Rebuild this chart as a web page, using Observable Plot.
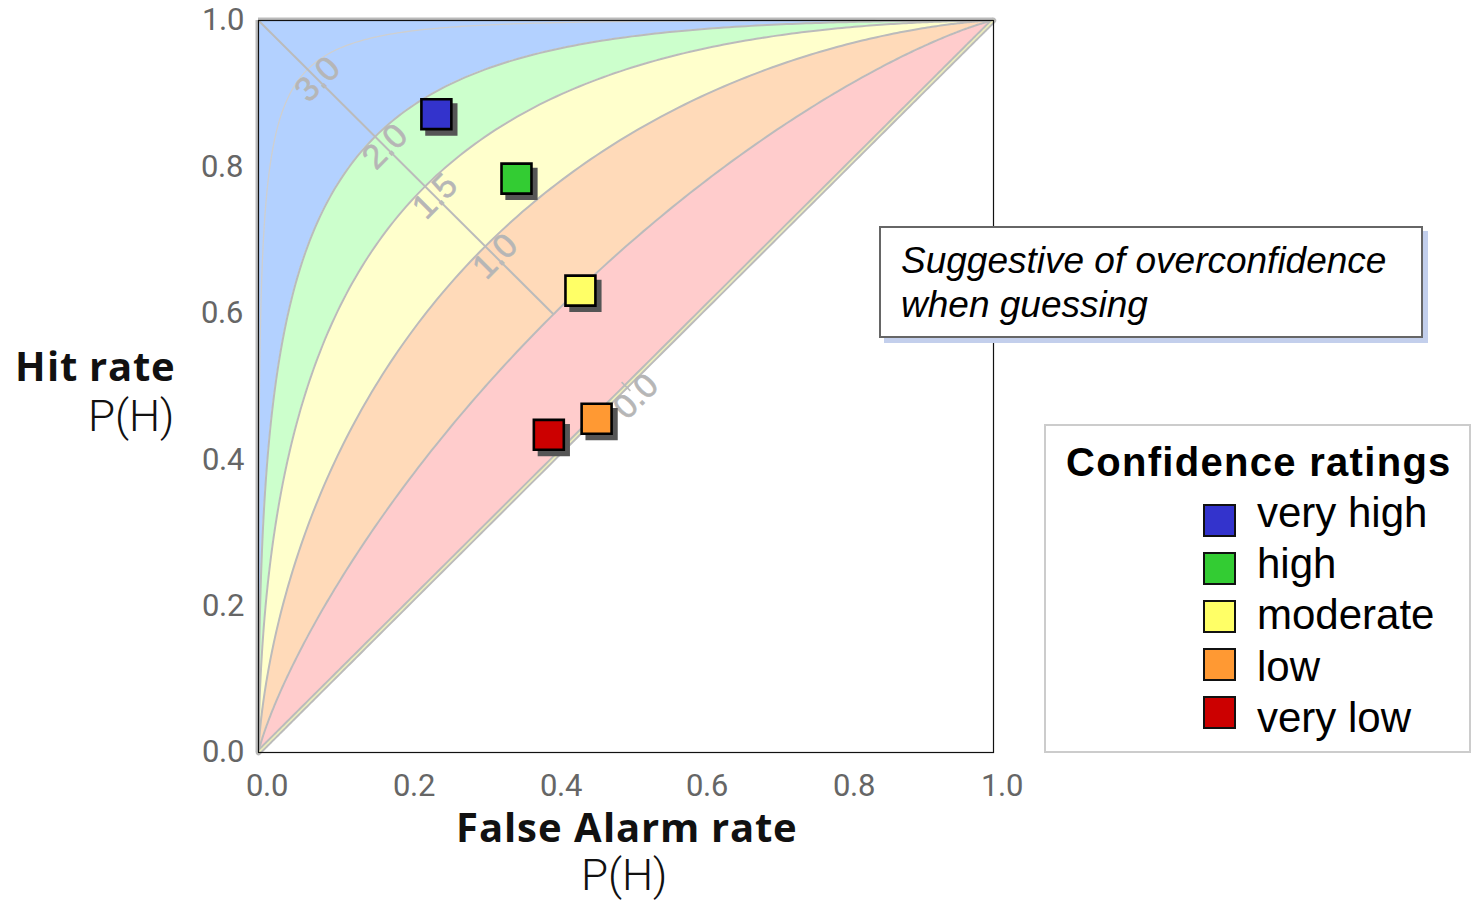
<!DOCTYPE html>
<html>
<head>
<meta charset="utf-8">
<script src="https://cdn.jsdelivr.net/npm/d3@7"></script>
<script src="https://cdn.jsdelivr.net/npm/@observablehq/plot@0.6"></script>
<style>
  @font-face { font-family: "TitleSans"; src: local("Open Sans Bold"), local("OpenSans-Bold"), local("Open Sans");
               font-weight: 700; ascent-override: 80%; descent-override: 22%; line-gap-override: 0%; }
  @font-face { font-family: "LightSans"; src: local("Roboto Light"), local("Roboto-Light");
               font-weight: 300; ascent-override: 82%; descent-override: 22%; line-gap-override: 0%; }
  @font-face { font-family: "TickSans"; src: local("Roboto"), local("Roboto Regular"), local("Roboto-Regular");
               font-weight: 400; ascent-override: 80%; descent-override: 20%; line-gap-override: 0%; }
  body { margin: 0; background: #fff; }
  #wrap { position: relative; width: 1474px; height: 903px; overflow: hidden; }
  .abs { position: absolute; white-space: nowrap; line-height: 1; }
  .ttl { font-family: TitleSans, "Open Sans", sans-serif; font-weight: 700; font-size: 40px; letter-spacing: 1px; color: #111; }
  .sub { font-family: LightSans, Roboto, sans-serif; font-weight: 300; font-size: 44px; color: #111; }
  #note { left: 879px; top: 226px; width: 540px; height: 108px; border: 2px solid #666; background: #fff;
          box-shadow: 5px 5px 0 #c3cfec; font-family: "Liberation Sans", Arial, sans-serif; font-style: italic;
          font-size: 37px; color: #000; box-sizing: content-box; }
  #note div { position: absolute; left: 20px; }
  #legend { left: 1044px; top: 424px; width: 423px; height: 325px; border: 2px solid #ccc; background: #fff;
            font-family: "Liberation Sans", Arial, sans-serif; color: #000; }
  #legend .lt { position: absolute; left: 20px; top: 16px; font-weight: 700; font-size: 40px; letter-spacing: 1.3px; }
  #legend .sw { position: absolute; left: 157px; width: 29px; height: 29px; border: 2px solid #111; }
  #legend .lb { position: absolute; left: 211px; font-size: 42px; }
</style>
</head>
<body>
<div id="wrap"></div>
<script>
// ---------- data ----------
const categories  = ["very high", "high", "moderate", "low", "very low"];
const falseAlarm  = [0.242, 0.351, 0.438, 0.460, 0.395];
const hitRate     = [0.872, 0.784, 0.631, 0.456, 0.434];
const pointColors = ["#3333CC", "#33CC33", "#FFFF66", "#FF9933", "#CC0000"];

// sensitivity bands (d') : lower / upper boundary and fill
const bandLower  = [2.0, 1.5, 1.0, 0.5, 0.0];
const bandUpper  = [Infinity, 2.0, 1.5, 1.0, 0.5];
const bandColors = ["#B3D1FF", "#CCFFCC", "#FFFFCC", "#FFDAB9", "#FFCCCC"];
const curveDPrimes = [3.0, 2.0, 1.5, 1.0, 0.5];
const labelDPrimes = [3.0, 2.0, 1.5, 1.0, 0.0];
const guideEndDPrime = 0.5;

const xTicks = [0, 0.2, 0.4, 0.6, 0.8, 1.0];
const yTicks = [0, 0.2, 0.4, 0.6, 0.8, 1.0];
const noteLines = ["Suggestive of overconfidence", "when guessing"];
const legendTitle = "Confidence ratings";

// ---------- signal detection helpers ----------
function erf(x) {
  const s = Math.sign(x); x = Math.abs(x);
  const t = 1 / (1 + 0.3275911 * x);
  const y = 1 - (((((1.061405429 * t - 1.453152027) * t) + 1.421413741) * t - 0.284496736) * t + 0.254829592) * t * Math.exp(-x * x);
  return s * y;
}
const Phi = z => 0.5 * (1 + erf(z / Math.SQRT2));
const zGrid = d3.range(-8, 8.0001, 0.02);
const hitAt = (z, d) => d === Infinity ? 1 : Phi(z + d);

const bandRows = [];
bandLower.forEach((lo, i) => {
  const hi = bandUpper[i];
  bandRows.push({band: i, x: 0, y1: 0, y2: hi === Infinity ? 1 : 0});
  zGrid.forEach(z => bandRows.push({band: i, x: Phi(z), y1: hitAt(z, lo), y2: hitAt(z, hi)}));
  bandRows.push({band: i, x: 1, y1: 1, y2: 1});
});
const curveRows = [];
curveDPrimes.forEach(d => {
  curveRows.push({d, x: 0, y: 0});
  zGrid.forEach(z => curveRows.push({d, x: Phi(z), y: Phi(z + d)}));
  curveRows.push({d, x: 1, y: 1});
});
const diagRows = [{x: 0, y: 0}, ...zGrid.map(z => ({x: Phi(z), y: Phi(z)})), {x: 1, y: 1}];
const guideX = Phi(-guideEndDPrime / 2);
const idx = d3.range(categories.length);

function draw() {
  const chart = Plot.plot({
    width: 1474, height: 903,
    marginLeft: 258, marginRight: 481, marginTop: 20, marginBottom: 151,
    x: {domain: [0, 1]},
    y: {domain: [0, 1]},
    style: {fontFamily: "TickSans, Roboto, sans-serif", background: "transparent"},
    marks: [
      Plot.ruleX([0], {stroke: "#bbb", strokeWidth: 6}),
      Plot.ruleY([1], {stroke: "#bbb", strokeWidth: 6}),
      Plot.areaY(bandRows, {x: "x", y1: "y1", y2: "y2", z: "band", fill: d => bandColors[d.band], fillOpacity: 1}),
      Plot.line(curveRows, {x: "x", y: "y", z: "d", stroke: d => d.d === 3 ? "#cfcfcf" : "#bbbbbb",
        strokeWidth: d => d.d === 3 ? 1.3 : 2}),
      Plot.line(diagRows, {x: "x", y: "y", stroke: "#bbbbbb", strokeWidth: 5.5}),
      Plot.line(diagRows, {x: "x", y: "y", stroke: "#eeeebb", strokeWidth: 1.6}),
      Plot.text(labelDPrimes, {x: d => Phi(-d / 2), y: d => 1 - Phi(-d / 2), text: d => d.toFixed(1),
        rotate: -45, dx: 10, dy: 10, fontSize: 34, fill: "#b6b6b6", stroke: "#b6b6b6", strokeWidth: 0.6,
        fontFamily: "Liberation Sans, Arial, sans-serif"}),
      Plot.link([guideEndDPrime], {x1: 0, y1: 1, x2: () => guideX, y2: () => 1 - guideX, stroke: "#bbbbbb", strokeWidth: 2}),
      Plot.link([0], {x1: () => Phi(0) - 0.006, y1: () => Phi(0) + 0.006, x2: () => Phi(0) + 0.006, y2: () => Phi(0) - 0.006,
        stroke: "#bbbbbb", strokeWidth: 1.5}),
      Plot.frame({stroke: "#111", strokeWidth: 1.2}),
      Plot.dot(idx, {x: i => falseAlarm[i], y: i => hitRate[i], symbol: "square", r: 18.2, fill: "#555",
        dx: 5, dy: 5.3, stroke: null}),
      Plot.dot(idx, {x: i => falseAlarm[i], y: i => hitRate[i], symbol: "square", r: 16.9,
        fill: i => pointColors[i], stroke: "#000", strokeWidth: 2.6}),
      Plot.axisX(xTicks, {tickSize: 0, tickPadding: 21, fontSize: 31, fill: "#666", dx: 8,
        tickFormat: d3.format(".1f"), label: null}),
      Plot.axisY(yTicks, {tickSize: 0, tickPadding: 15, fontSize: 31, fill: "#666",
        tickFormat: d3.format(".1f"), label: null})
    ]
  });

  const wrap = document.getElementById("wrap");
  wrap.appendChild(chart);

  // place a one-line text so that its baseline sits at a given y
  function addText(cls, txt, baseline, css) {
    const el = document.createElement("div");
    el.className = "abs " + cls;
    el.textContent = txt;
    Object.assign(el.style, css);
    wrap.appendChild(el);
    const probe = document.createElement("span");
    probe.style.display = "inline-block"; probe.style.width = "0"; probe.style.height = "0";
    el.appendChild(probe);
    const off = probe.getBoundingClientRect().top - el.getBoundingClientRect().top;
    el.removeChild(probe);
    el.style.top = (baseline - off) + "px";
    return el;
  }
  // axis titles
  addText("ttl", "Hit rate", 381, {right: (1474 - 176) + "px", top: "0px"});
  addText("sub", "P(H)", 431, {right: (1474 - 174) + "px", top: "0px"});
  addText("ttl", "False Alarm rate", 842, {left: "627px", top: "0px", transform: "translateX(-50%)"});
  addText("sub", "P(H)", 890, {left: "624px", top: "0px", transform: "translateX(-50%)"});

  // annotation box
  const note = document.createElement("div");
  note.id = "note"; note.className = "abs";
  noteLines.forEach((t, i) => {
    const d = document.createElement("div");
    d.textContent = t;
    d.style.top = (14 + i * 44) + "px";
    note.appendChild(d);
  });
  wrap.appendChild(note);

  // legend
  const legend = document.createElement("div");
  legend.id = "legend"; legend.className = "abs";
  const lt = document.createElement("div");
  lt.className = "lt"; lt.textContent = legendTitle;
  legend.appendChild(lt);
  categories.forEach((c, i) => {
    const sw = document.createElement("div");
    sw.className = "sw";
    sw.style.top = (78 + i * 48) + "px";
    sw.style.background = pointColors[i];
    legend.appendChild(sw);
    const lb = document.createElement("div");
    lb.className = "lb";
    lb.textContent = c;
    lb.style.top = (66 + i * 51.2) + "px";
    legend.appendChild(lb);
  });
  wrap.appendChild(legend);
}

Promise.all([
  document.fonts.load('700 40px TitleSans'),
  document.fonts.load('300 44px LightSans'),
  document.fonts.load('400 31px TickSans')
]).catch(() => {}).then(draw);
</script>
</body>
</html>
